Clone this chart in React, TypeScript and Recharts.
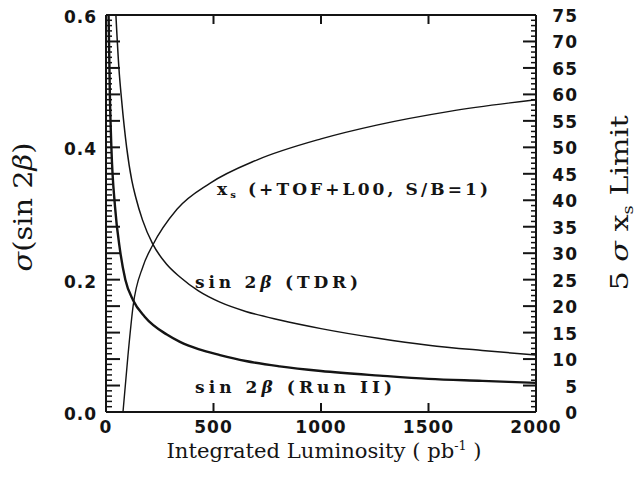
import React from 'react';
import { LineChart, Line, XAxis, YAxis } from 'recharts';

// integrated luminosity (pb^-1) and sigma(sin 2beta), TDR projection
const tdrLumi = [46, 60, 73, 96, 120, 138, 170, 217, 280, 344, 430, 530, 650, 808, 1000, 1273, 1500, 1750, 2000];
const tdrSigma = [0.6, 0.52, 0.47, 0.4, 0.35, 0.325, 0.29, 0.254, 0.224, 0.204, 0.183, 0.166, 0.152, 0.139, 0.126, 0.111, 0.101, 0.093, 0.086];

// Run II projection
const run2Lumi = [12, 18, 25, 42, 65, 90, 126, 180, 283, 344, 430, 530, 650, 808, 1000, 1273, 1500, 1750, 2000];
const run2Sigma = [0.6, 0.48, 0.4, 0.31, 0.245, 0.2, 0.169, 0.144, 0.117, 0.106, 0.095, 0.086, 0.077, 0.069, 0.062, 0.055, 0.05, 0.047, 0.044];

// 5 sigma x_s reach (right axis)
const xsLumi = [79, 102, 126, 172, 217, 330, 483, 701, 1000, 1259, 1598, 2000];
const xsLimit = [0, 10.6, 20, 27.5, 31.5, 38.3, 43.2, 47.6, 51.6, 54.2, 56.8, 59];

const xTicks = [0, 500, 1000, 1500, 2000];
const leftLabels = ['0.0', '0.2', '0.4', '0.6'];
const rightMax = 75;

const tdrData = tdrLumi.map((L, i) => ({ L, v: tdrSigma[i] }));
const run2Data = run2Lumi.map((L, i) => ({ L, v: run2Sigma[i] }));
const xsData = xsLumi.map((L, i) => ({ L, v: xsLimit[i] }));

// one small tick per unit of the right scale, on both vertical axes
const rightTicks = Array.from({ length: rightMax + 1 }, (_, i) => i);
const leftTicks = rightTicks.map((i) => (i * 0.6) / rightMax);

const INK = '#141414';
const tickFont = { fontFamily: 'DejaVu Sans', fontWeight: 700, fontSize: 17, letterSpacing: 1, fill: INK } as const;

const LeftTick = (props: any) => {
  const { x, y, payload } = props;
  const i = Math.round((payload.value * rightMax) / 0.6);
  const major = i % 5 === 0;
  return (
    <g>
      <line x1={x} x2={x + (major ? 14 : 6)} y1={y} y2={y} stroke={INK} strokeWidth={major ? 2 : 1.5} />
      {i % 25 === 0 && (
        <text x={x - 9} y={y + 2} textAnchor="end" dominantBaseline="central" {...tickFont}>
          {leftLabels[i / 25]}
        </text>
      )}
    </g>
  );
};

const RightTick = (props: any) => {
  const { x, y, payload } = props;
  const major = payload.value % 5 === 0;
  return (
    <g>
      <line x1={x} x2={x - (major ? 13 : 5)} y1={y} y2={y} stroke={INK} strokeWidth={major ? 2 : 1.5} />
      {major && (
        <text x={578} y={y + 1} textAnchor="end" dominantBaseline="central" {...tickFont}>
          {payload.value}
        </text>
      )}
    </g>
  );
};

const BottomTick = (props: any) => {
  const { x, y, payload } = props;
  const inner = payload.value > 0 && payload.value < 2000;
  return (
    <g>
      {inner && <line x1={x} x2={x} y1={y} y2={y - 9} stroke={INK} strokeWidth={2} />}
      <text x={x} y={y + 15} textAnchor="middle" dominantBaseline="central" {...tickFont}>
        {payload.value}
      </text>
    </g>
  );
};

const TopTick = (props: any) => {
  const { x, y, payload } = props;
  const inner = payload.value > 0 && payload.value < 2000;
  return inner ? <line x1={x} x2={x} y1={y} y2={y + 9} stroke={INK} strokeWidth={2} /> : <g />;
};

const labelFont = { fontFamily: 'DejaVu Serif', fontWeight: 700, fontSize: 17, fill: INK } as const;
const titleFont = { fontFamily: 'DejaVu Serif', fill: INK } as const;

export default function App() {
  return (
    <div style={{ position: 'absolute', left: 0, top: 0, width: 640, height: 479, background: '#fff' }}>
      <LineChart width={640} height={479} margin={{ top: 0, right: 0, bottom: 0, left: 0 }}>
        <XAxis
          xAxisId="bottom"
          dataKey="L"
          type="number"
          domain={[0, 2000]}
          ticks={xTicks}
          interval={0}
          height={67}
          tickSize={0}
          tickMargin={0}
          tick={BottomTick}
          axisLine={{ stroke: INK, strokeWidth: 2 }}
          allowDataOverflow
        />
        <XAxis
          xAxisId="top"
          orientation="top"
          dataKey="L"
          type="number"
          domain={[0, 2000]}
          ticks={xTicks}
          interval={0}
          height={15}
          tickSize={0}
          tickMargin={0}
          tick={TopTick}
          axisLine={{ stroke: INK, strokeWidth: 2 }}
          allowDataOverflow
        />
        <YAxis
          yAxisId="left"
          type="number"
          domain={[0, 0.6]}
          ticks={leftTicks}
          interval={0}
          width={106}
          tickSize={0}
          tickMargin={0}
          tick={LeftTick}
          axisLine={{ stroke: INK, strokeWidth: 2 }}
          allowDataOverflow
        />
        <YAxis
          yAxisId="right"
          orientation="right"
          type="number"
          domain={[0, rightMax]}
          ticks={rightTicks}
          interval={0}
          width={104}
          tickSize={0}
          tickMargin={0}
          tick={RightTick}
          axisLine={{ stroke: INK, strokeWidth: 2 }}
          allowDataOverflow
        />
        <Line
          xAxisId="bottom"
          yAxisId="left"
          data={tdrData}
          dataKey="v"
          type="monotone"
          stroke={INK}
          strokeWidth={1.5}
          dot={false}
          isAnimationActive={false}
        />
        <Line
          xAxisId="bottom"
          yAxisId="left"
          data={run2Data}
          dataKey="v"
          type="monotone"
          stroke={INK}
          strokeWidth={2.4}
          dot={false}
          isAnimationActive={false}
        />
        <Line
          xAxisId="bottom"
          yAxisId="right"
          data={xsData}
          dataKey="v"
          type="monotone"
          stroke={INK}
          strokeWidth={1.4}
          dot={false}
          isAnimationActive={false}
        />
      </LineChart>
      <svg width={640} height={479} style={{ position: 'absolute', left: 0, top: 0, pointerEvents: 'none' }}>
        <text x={217} y={195} textLength={271} lengthAdjust="spacing" {...labelFont}>
          x<tspan fontSize={10} dy={3}>s</tspan>
          <tspan dy={-3}> (+TOF+L00, S/B=1)</tspan>
        </text>
        <text x={195} y={288} textLength={163} lengthAdjust="spacing" {...labelFont}>
          sin 2<tspan fontStyle="italic">β</tspan> (TDR)
        </text>
        <text x={195} y={393} textLength={197} lengthAdjust="spacing" {...labelFont}>
          sin 2<tspan fontStyle="italic">β</tspan> (Run II)
        </text>
        <text x={324} y={458} textAnchor="middle" textLength={315} lengthAdjust="spacingAndGlyphs" fontSize={20} {...titleFont}>
          Integrated Luminosity ( pb<tspan fontSize={12} dy={-8}>-1</tspan>
          <tspan dy={8}> )</tspan>
        </text>
        <text
          transform="translate(32,207) rotate(-90)"
          textAnchor="middle"
          textLength={129}
          lengthAdjust="spacingAndGlyphs"
          fontSize={26}
          {...titleFont}
        >
          <tspan fontStyle="italic">σ</tspan>(sin 2<tspan fontStyle="italic">β</tspan>)
        </text>
        <text
          transform="translate(628,203) rotate(-90)"
          textAnchor="middle"
          textLength={175}
          lengthAdjust="spacingAndGlyphs"
          fontSize={25}
          {...titleFont}
        >
          5 <tspan fontStyle="italic">σ</tspan> x<tspan fontSize={15} dy={5}>s</tspan>
          <tspan dy={-5}> Limit</tspan>
        </text>
      </svg>
    </div>
  );
}
